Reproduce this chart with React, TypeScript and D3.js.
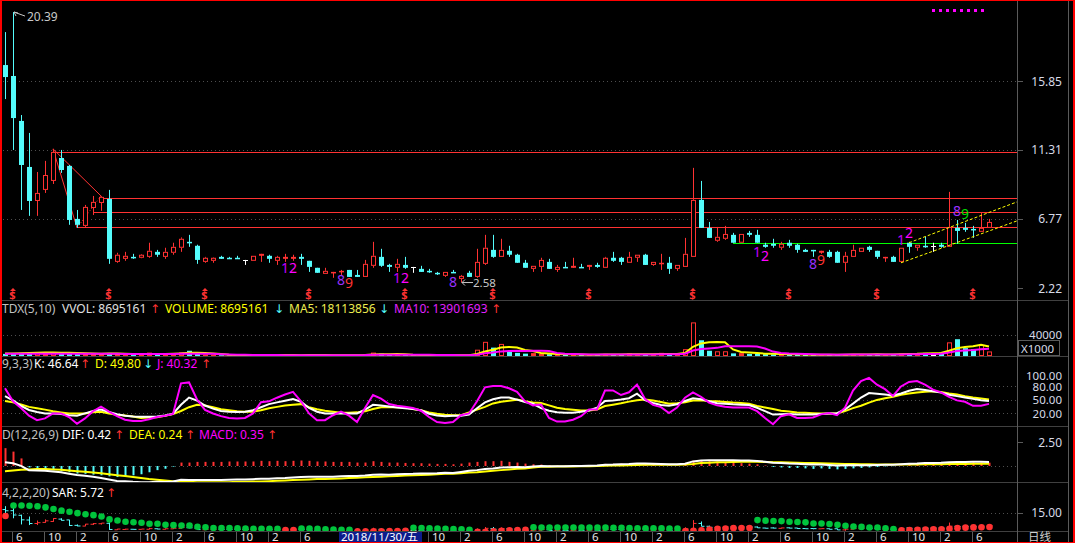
import React from "react";
import * as d3 from "d3";

const W = 1075;
const H = 543;

// ---------- monthly OHLC (May 2015 .. Aug 2025) ----------
const opens = [16.90,16.18,13.22,10.19,7.95,8.68,9.27,10.78,10.26,6.77,
 6.31,7.49,7.82,8.09,3.94,4.14,4.27,4.21,4.27,4.60,
 4.27,4.54,4.87,5.26,5.00,3.94,4.01,4.27,4.21,4.21,
 4.07,4.01,4.34,4.34,4.01,4.14,4.14,4.27,4.01,3.55,
 3.15,3.22,3.28,3.41,3.08,2.95,3.68,4.27,3.74,3.55,
 3.74,3.61,3.48,3.35,3.22,3.02,3.28,2.82,3.22,2.95,
 3.81,4.73,4.27,4.67,4.41,3.88,3.48,3.61,3.94,3.41,
 3.61,3.55,3.61,3.61,3.74,3.55,4.21,4.21,3.88,4.21,
 4.41,3.74,3.81,3.88,3.48,3.61,4.27,8.02,6.18,5.33,
 5.46,5.72,5.20,5.85,5.72,5.07,5.13,4.87,5.20,5.07,
 4.73,4.73,4.54,4.60,4.60,3.88,4.27,4.60,4.93,4.67,
 4.21,4.27,3.94,5.20,4.87,5.00,5.00,5.07,4.93,6.18,
 6.18,6.11,5.92,6.18];
const highs = [19.07,20.39,13.61,12.43,9.86,10.59,11.38,11.31,10.32,7.36,
 7.69,8.28,8.28,8.68,4.54,4.60,4.47,4.45,5.20,4.73,
 4.87,5.20,5.55,5.72,5.07,4.27,4.24,4.34,4.27,4.34,
 4.07,4.34,4.47,4.41,4.34,4.47,4.41,4.47,4.01,3.55,
 3.55,3.28,3.41,3.41,3.41,4.07,5.26,4.80,3.81,4.14,
 4.27,3.61,3.68,3.48,3.28,3.28,3.41,3.08,3.35,4.80,
 5.72,5.72,5.46,5.00,4.47,4.07,3.68,4.21,4.14,3.74,
 3.94,4.21,3.81,3.74,3.88,4.27,4.60,4.27,4.60,4.41,
 4.47,3.94,4.47,4.27,3.74,5.52,10.13,9.27,6.57,6.24,
 6.31,5.85,5.78,5.98,6.05,5.20,5.46,5.26,5.39,5.13,
 4.80,4.73,4.67,4.73,4.67,4.60,5.07,4.87,5.00,4.67,
 4.27,4.34,4.87,5.26,5.07,5.59,5.20,5.20,8.55,6.70,
 6.51,6.31,7.16,6.77];
const lows = [14.66,11.31,7.36,6.97,6.97,8.48,9.07,9.80,6.38,6.18,
 6.24,7.03,7.30,3.81,3.88,4.01,4.14,4.18,4.21,4.27,
 4.14,4.41,4.60,4.93,3.81,3.88,3.88,4.14,4.14,4.14,
 3.74,4.01,3.94,3.88,3.74,3.94,4.01,3.74,3.28,3.22,
 3.15,2.89,3.08,2.95,2.95,2.95,3.55,3.61,3.28,3.28,
 3.48,3.22,3.28,3.22,3.08,2.95,3.22,2.58,2.95,2.89,
 3.74,4.21,4.27,4.27,3.88,3.55,3.28,3.28,3.48,3.28,
 3.55,3.55,3.55,3.41,3.55,3.55,3.94,3.74,3.88,3.94,
 3.74,3.68,3.41,3.15,3.35,3.61,4.27,6.18,5.52,5.26,
 5.39,5.20,5.20,5.59,5.20,4.87,4.87,4.73,4.87,4.54,
 4.60,4.27,4.47,4.21,3.88,3.28,4.27,4.60,4.60,4.14,
 3.94,3.94,3.88,4.54,4.67,4.87,4.60,4.87,4.93,5.13,
 5.92,5.52,5.92,6.18];
const closes = [16.11,13.41,10.32,7.95,8.48,9.66,11.18,9.99,6.70,6.38,
 7.56,7.89,8.22,4.14,4.41,4.34,4.21,4.41,4.67,4.41,
 4.60,4.93,5.46,5.20,4.07,4.21,4.21,4.14,4.16,4.18,
 4.07,4.34,4.47,4.14,4.27,4.27,4.27,4.14,3.61,3.22,
 3.35,3.28,3.35,2.95,2.95,3.81,4.34,3.68,3.61,3.81,
 3.55,3.61,3.28,3.28,3.15,3.28,3.22,3.02,2.95,3.94,
 4.87,4.27,4.73,4.41,3.88,3.55,3.68,4.07,3.48,3.61,
 3.55,3.68,3.55,3.74,3.61,4.21,4.01,3.94,4.27,4.41,
 3.74,3.94,3.88,3.48,3.74,4.47,8.02,6.18,5.52,5.59,
 5.78,5.20,5.78,5.72,5.20,4.93,5.00,5.13,5.00,4.73,
 4.60,4.67,4.67,4.27,3.88,4.34,4.73,4.87,4.73,4.27,
 4.27,3.94,4.87,4.93,5.07,4.93,5.00,4.93,6.24,5.98,
 6.05,6.05,6.18,6.57];

// ---------- volume (x1000) ----------
const volumes = [4000,5500,3800,5000,6000,4500,7500,5200,6800,3500,
 4200,3300,3600,5800,5500,2500,1800,2800,6500,3500,
 3800,4500,6800,10000,4800,2600,2000,1500,1200,1300,
 1400,1800,2200,1600,1500,1800,1500,1400,2200,1700,
 1500,1300,1400,1500,1300,2800,6500,4500,2200,2400,
 1800,1500,1400,1200,1100,1500,1200,2000,2200,12000,
 27000,16000,23000,8000,6000,4500,5500,4000,3500,2500,
 2800,2600,3000,2200,2500,4000,3000,2500,5000,3200,
 3000,2500,6000,3500,3000,13000,64000,30000,10000,9000,
 9000,5000,5500,4000,4500,3500,3000,3500,2500,3000,
 2200,2000,2500,2000,2500,3500,3000,2800,3000,3500,
 2500,3000,4500,5000,5500,6000,5500,6300,26000,32000,
 15000,13000,21000,8695];
const volMa5 = [4800,5000,5200,5600,6200,6500,6600,6300,6000,5500,
 5200,4800,4500,4600,4700,4300,3900,3600,3800,3600,
 3700,4200,5000,6000,6200,5600,5000,4000,2500,1700,
 1500,1400,1600,1700,1700,1800,1700,1600,1700,1700,
 1700,1600,1600,1500,1400,1700,2700,3300,3500,3700,
 3500,2500,1900,1700,1400,1300,1300,1400,1600,3800,
 8700,11900,16000,17200,16000,11500,9400,5600,4700,3900,
 3400,3100,2800,2600,2600,2900,2900,2800,3400,3500,
 3500,3200,3900,3600,3600,5600,17500,24000,26000,26500,
 26000,12600,7700,6500,5600,4500,4100,3700,3400,3100,
 2800,2600,2400,2300,2200,2500,2700,2800,3000,3200,
 3000,3000,3300,3800,4100,4800,5300,5700,9900,15000,
 17000,18500,21400,18114];
const volMa10 = [4200,4300,4300,4400,4500,4500,4500,4400,4300,4300,
 4300,4200,4200,4100,4100,4000,4000,3900,3900,3900,
 3900,4000,4100,4300,4400,4300,4200,3500,3000,2600,
 2300,2000,1900,1800,1700,1600,1600,1600,1600,1600,
 1600,1600,1600,1600,1600,1700,2200,2400,2500,2600,
 2600,2400,2300,2200,2000,2000,1700,1600,1600,2600,
 5100,6600,8800,9400,9800,9600,9900,9900,9400,5900,
 4200,3600,3200,2900,2800,2800,2800,2700,2900,3000,
 3000,3000,3400,3400,3400,4400,10400,13300,14500,15500,
 18500,18500,18500,18500,18200,14300,8400,5800,4800,4400,
 3700,3300,3000,2800,2600,2800,2800,2800,2800,2900,
 2800,2800,3000,3300,3400,3600,3900,4300,6600,9400,
 10400,11400,12900,13902];

// ---------- KDJ(9,3,3) ----------
const kValues = [57.4,48.2,35.9,26.7,22.1,19.1,19.1,17.5,15.2,14.1,
 19.1,24.4,27.5,22.1,17.5,13.7,12.2,11.4,11.4,12.2,
 14.5,18.3,38.2,54.3,47.4,36.7,29.8,24.4,22.9,22.1,
 22.9,26.0,32.9,39.7,43.6,47.4,51.2,45.1,31.3,22.9,
 19.1,19.1,19.1,19.1,19.1,27.5,38.2,36.7,34.4,32.1,
 30.6,29.0,26.0,18.3,14.5,13.0,13.7,13.7,16.8,30.6,
 43.6,50.5,54.3,54.3,49.7,44.3,40.5,30.9,24.9,21.8,
 20.3,20.3,22.6,25.6,31.7,46.8,47.6,49.9,52.9,62.8,
 48.4,42.3,37.7,36.2,39.3,46.8,52.9,50.6,46.1,41.5,
 40.8,39.3,38.5,37.7,31.7,24.1,16.5,17.3,18.0,16.5,
 16.5,16.5,18.0,18.8,19.6,27.9,40.8,54.4,64.3,62.8,
 61.2,59.0,63.5,69.6,73.4,71.1,68.1,65.8,60.5,57.5,
 54.4,51.4,48.4,46.64];
const dValues = [46.6,43.6,39.0,33.6,30.6,27.5,23.7,21.4,19.1,19.1,
 19.1,21.4,22.9,19.1,16.0,14.5,12.2,9.1,9.9,10.6,
 13.7,17.5,24.4,32.9,38.2,36.7,32.9,28.3,26.0,23.7,
 22.9,22.9,26.0,30.6,33.6,36.7,38.2,39.7,32.9,28.3,
 25.2,22.9,20.6,20.6,21.4,23.7,29.0,32.9,33.6,32.9,
 32.1,29.0,26.0,21.4,18.3,16.0,15.2,15.2,21.4,27.5,
 33.6,41.3,45.1,47.4,49.7,45.9,43.6,42.3,37.0,31.7,
 28.7,27.1,25.6,25.6,27.9,35.5,38.5,41.5,45.3,48.4,
 49.9,47.6,44.6,40.8,41.5,43.8,47.6,48.4,46.8,46.1,
 44.6,43.1,42.3,40.8,35.5,32.4,28.7,24.9,23.3,21.1,
 20.3,19.6,18.8,18.8,18.8,24.1,30.9,36.2,43.1,49.1,
 52.9,55.9,60.5,63.5,65.8,67.3,68.1,66.6,63.5,61.2,
 57.5,54.4,52.1,49.8];
const jValues = [75,46,31,14,4,8,19,19,11,-4,
 8,24,34,23,13,5,2,2,6,11,
 14,18,86,88,50,27,19,13,9,8,
 9,19,44,46,54,61,67,46,19,4,
 4,15,23,14,0,31,60,52,40,36,
 34,31,25,11,0,-2,0,15,19,46,
 77,80,80,75,67,46,37,39,9,1,
 1,5,13,28,28,70,70,60,66,83,
 51,38,33,20,32,54,66,56,43,37,
 34,32,32,32,24,9,-5,13,17,9,
 9,10,17,20,15,32,70,91,98,83,
 73,58,79,89,91,83,72,66,56,48,
 45,36,36,40.32];

// ---------- MACD(12,26,9) ----------
const difValues = [0.39,0.28,0.01,-0.44,-0.47,-0.50,-0.58,-0.66,-0.80,-0.94,
 -1.02,-1.13,-1.24,-1.40,-1.55,-1.58,-1.64,-1.68,-1.69,-1.65,
 -1.66,-1.62,-1.43,-1.47,-1.46,-1.46,-1.46,-1.46,-1.44,-1.41,
 -1.41,-1.37,-1.34,-1.33,-1.27,-1.26,-1.20,-1.14,-1.13,-1.12,
 -1.12,-1.11,-1.07,-1.03,-1.04,-1.00,-0.90,-0.89,-0.90,-0.86,
 -0.84,-0.82,-0.78,-0.77,-0.75,-0.71,-0.73,-0.62,-0.50,-0.43,
 -0.32,-0.25,-0.16,-0.14,-0.11,-0.12,-0.06,0.01,-0.02,-0.03,
 -0.02,-0.01,0.0,0.02,0.05,0.13,0.15,0.19,0.21,0.25,
 0.25,0.23,0.22,0.19,0.17,0.23,0.48,0.58,0.60,0.61,
 0.60,0.60,0.58,0.56,0.52,0.45,0.35,0.30,0.26,0.24,
 0.19,0.15,0.15,0.11,0.06,0.07,0.07,0.08,0.09,0.11,
 0.12,0.14,0.18,0.23,0.25,0.30,0.31,0.34,0.40,0.41,
 0.42,0.43,0.43,0.42];
const deaValues = [-0.54,-0.47,-0.39,-0.36,-0.32,-0.32,-0.36,-0.39,-0.47,-0.54,
 -0.61,-0.68,-0.75,-0.86,-0.97,-1.04,-1.15,-1.25,-1.36,-1.43,
 -1.51,-1.58,-1.61,-1.65,-1.68,-1.68,-1.68,-1.68,-1.68,-1.65,
 -1.65,-1.61,-1.61,-1.58,-1.54,-1.51,-1.47,-1.43,-1.40,-1.36,
 -1.36,-1.33,-1.29,-1.25,-1.22,-1.18,-1.15,-1.11,-1.08,-1.04,
 -1.00,-0.97,-0.93,-0.90,-0.86,-0.82,-0.82,-0.75,-0.68,-0.65,
 -0.57,-0.50,-0.43,-0.36,-0.29,-0.25,-0.15,-0.07,-0.07,-0.06,
 -0.05,-0.04,-0.03,-0.02,0.0,0.02,0.04,0.06,0.08,0.10,
 0.12,0.13,0.14,0.14,0.14,0.15,0.20,0.30,0.35,0.38,
 0.40,0.42,0.43,0.43,0.43,0.42,0.40,0.38,0.36,0.34,
 0.32,0.30,0.28,0.26,0.24,0.22,0.20,0.18,0.17,0.16,
 0.15,0.15,0.15,0.15,0.16,0.17,0.18,0.19,0.20,0.21,
 0.22,0.23,0.24,0.24];
const macdBars = [1.86,1.5,0.79,-0.15,-0.3,-0.36,-0.43,-0.54,-0.65,-0.79,
 -0.82,-0.9,-0.97,-1.08,-1.15,-1.08,-0.97,-0.86,-0.65,-0.43,
 -0.29,-0.07,0.36,0.36,0.43,0.43,0.43,0.43,0.47,0.47,
 0.47,0.47,0.54,0.5,0.54,0.5,0.54,0.57,0.54,0.47,
 0.47,0.43,0.43,0.43,0.36,0.36,0.5,0.43,0.36,0.36,
 0.32,0.29,0.29,0.25,0.22,0.22,0.18,0.25,0.36,0.43,
 0.5,0.5,0.54,0.43,0.36,0.25,0.18,0.15,0.1,0.05,
 0.05,0.05,0.05,0.08,0.1,0.22,0.22,0.25,0.25,0.3,
 0.25,0.2,0.15,0.1,0.05,0.15,0.55,0.55,0.5,0.45,
 0.4,0.35,0.3,0.25,0.18,0.05,-0.1,-0.15,-0.2,-0.2,
 -0.25,-0.3,-0.25,-0.3,-0.35,-0.3,-0.25,-0.2,-0.15,-0.1,
 -0.05,-0.02,0.05,0.15,0.18,0.25,0.25,0.3,0.4,0.4,
 0.4,0.4,0.38,0.35];

// ---------- SAR(4,2,2,20) ----------
const sarValues = [12.8,19.5,19.5,19.3,19.0,18.3,17.2,16.2,15.5,14.6,
 13.9,13.3,12.4,10.6,9.9,9.1,8.8,8.4,7.8,7.8,
 7.1,6.9,6.7,6.7,5.9,5.6,5.1,5.1,5.1,4.9,
 4.7,4.6,4.6,4.5,4.5,3.7,3.8,4.7,4.7,4.5,
 4.3,4.1,4.0,3.9,2.9,2.9,2.95,3.0,3.1,3.2,
 3.25,5.2,5.1,4.9,4.7,4.6,4.4,4.3,4.0,2.6,
 2.7,3.0,3.3,3.6,3.8,3.85,5.5,5.4,5.4,5.4,
 5.4,5.4,5.3,5.3,5.3,5.3,5.2,5.2,5.0,4.9,
 4.9,4.9,4.9,4.7,4.7,3.15,3.3,3.6,4.1,4.5,
 4.8,5.0,5.1,5.1,10.13,9.8,9.6,9.5,9.1,8.9,
 8.7,8.0,8.0,7.6,7.1,6.5,6.0,5.8,5.4,5.4,
 4.9,4.4,3.6,3.7,3.9,4.1,4.2,4.3,4.6,5.0,
 5.3,5.45,5.6,5.72];
const sarUp = [1,0,0,0,0,0,0,0,0,0,
 0,0,0,0,0,0,0,0,0,0,
 0,0,0,0,0,0,0,0,0,0,
 0,0,0,0,0,1,1,0,0,0,
 0,0,0,0,1,1,1,1,1,1,
 1,0,0,0,0,0,0,0,0,1,
 1,1,1,1,1,1,0,0,0,0,
 0,0,0,0,0,0,0,0,0,0,
 0,0,0,0,0,1,1,1,1,1,
 1,1,1,1,0,0,0,0,0,0,
 0,0,0,0,0,0,0,0,0,0,
 0,0,1,1,1,1,1,1,1,1,
 1,1,1,1];

// ---------- axis ticks ----------
const priceTicks = [15.85, 11.31, 6.77, 2.22];
const volTicks = [40000];
const kdjTicks = [100, 80, 50, 20];
const kdjGrid = [80, 50, 20];
const macdTicks = [2.5];
const sarTicks = [15];
const labelMonths = [2, 6, 10];
const cursorIdx = 42;
const cursorLabel = "2018/11/30/五";

// ---------- drawing annotations (index, price) ----------
const levelLines = [
  { from: 6, price: 11.18 },
  { from: 12, price: 8.15 },
  { from: 11, price: 7.23 },
  { from: 9, price: 6.24 },
];
const supportLine = { from: 91, price: 5.2 };
const channelLow = [[112, 3.88], [126.5, 6.64]];
const channelHigh = [[113, 5.2], [126.5, 7.89]];
const waveLines = [
  [[6, 11.38], [9, 6.18]],
  [[6, 11.38], [12, 8.28]],
];
const waveDotted = [[9, 6.18], [12, 8.28]];
const dividendIdx = [1, 13, 25, 38, 50, 61, 73, 86, 98, 109, 121];
const tdMarks = [
  { i: 35, t: "1", p: 3.55, c: "#c000ff" },
  { i: 36, t: "2", p: 3.55, c: "#ff00ff" },
  { i: 42, t: "8", p: 2.76, c: "#9a30ff" },
  { i: 43, t: "9", p: 2.53, c: "#ff3232" },
  { i: 49, t: "1", p: 2.89, c: "#c000ff" },
  { i: 50, t: "2", p: 2.89, c: "#ff00ff" },
  { i: 56, t: "8", p: 2.63, c: "#9a30ff" },
  { i: 94, t: "1", p: 4.62, c: "#c000ff" },
  { i: 95, t: "2", p: 4.34, c: "#ff00ff" },
  { i: 101, t: "8", p: 3.79, c: "#9a30ff" },
  { i: 102, t: "9", p: 4.07, c: "#ff3232" },
  { i: 112, t: "1", p: 5.39, c: "#c000ff" },
  { i: 113, t: "2", p: 5.82, c: "#ff00ff" },
  { i: 119, t: "8", p: 7.3, c: "#9a30ff" },
  { i: 120, t: "9", p: 7.1, c: "#00e000" },
];

const RED = "#ff3232";
const CYAN = "#54fcfc";
const SAR_GREEN = "#00c43c";
const GRID = "#4e4e4e";
const SEP = "#404040";
const AXIS = "#5a5a5a";
const LABEL = "#d6dae6";
const FONT = "'Noto Sans','DejaVu Sans','Noto Sans CJK SC',sans-serif";

export default function App() {
  const n = closes.length;
  const x = d3.scaleLinear().domain([0, n - 1]).range([5, 989]);
  const yP = d3.scaleLinear().domain([2.22, 15.85]).range([288, 81]);
  const yV = d3.scaleLinear().domain([0, 40000]).range([356, 335]);
  const yK = d3.scaleLinear().domain([20, 80]).range([413, 386]);
  const yM = d3.scaleLinear().domain([0, 2.5]).range([466, 442]);
  const yS = d3.scaleLinear().domain([5.72, 15]).range([527, 512.5]);

  const dates = d3.range(n).map((i) => d3.timeMonth.offset(new Date(2015, 4, 1), i));
  const boxX0 = x(cursorIdx) - 2;
  const boxX1 = boxX0 + 83;
  const monthTicks = dates
    .map((d, i) => ({ i, m: d.getMonth() + 1 }))
    .filter((t) => labelMonths.includes(t.m))
    .filter((t) => x(t.i) + 3 < boxX0 - 4 || x(t.i) > boxX1);

  const lineOf = (ys: (v: number) => number) =>
    d3.line<number>().x((_, i) => x(i)).y((v) => ys(v));

  const ptLine = d3
    .line<number[]>()
    .x((d) => x(d[0]))
    .y((d) => yP(d[1]));

  const candles = d3.range(n).map((i) => {
    const o = opens[i], c = closes[i], h = highs[i], l = lows[i];
    const xc = Math.round(x(i));
    const up = c > o;
    const down = c < o;
    const col = up ? RED : down ? CYAN : "#ffffff";
    const top = yP(Math.max(o, c));
    const bot = yP(Math.min(o, c));
    const xw = xc + 0.5;
    if (!up && !down) {
      return (
        <g key={i} stroke={col}>
          <line x1={xw} x2={xw} y1={yP(h)} y2={yP(l)} />
          <line x1={xc - 2} x2={xc + 3} y1={Math.round(top) + 0.5} y2={Math.round(top) + 0.5} />
        </g>
      );
    }
    const bh = bot - top;
    if (up && bh >= 3) {
      return (
        <g key={i} stroke={col}>
          <line x1={xw} x2={xw} y1={yP(h)} y2={top} />
          <line x1={xw} x2={xw} y1={bot} y2={yP(l)} />
          <rect x={xc - 1.5} y={top + 0.5} width={4} height={bh - 1} fill="#000" />
        </g>
      );
    }
    return (
      <g key={i}>
        <line x1={xw} x2={xw} y1={yP(h)} y2={yP(l)} stroke={col} />
        <rect x={xc - 2} y={top} width={5} height={Math.max(bh, 1.5)} fill={col} />
      </g>
    );
  });

  const volBars = d3.range(n).map((i) => {
    const up = closes[i] > opens[i];
    const down = closes[i] < opens[i];
    const xc = Math.round(x(i));
    const top = yV(volumes[i]);
    const h = 356 - top;
    if (up && h >= 3) {
      return <rect key={i} x={xc - 1.5} y={top + 0.5} width={4} height={h - 1} fill="#000" stroke={RED} />;
    }
    return <rect key={i} x={xc - 2} y={top} width={5} height={Math.max(h, 1)} fill={up ? RED : down ? CYAN : "#fff"} />;
  });

  const sarBars = d3.range(n).map((i) => {
    const o = opens[i], c = closes[i];
    const col = c > o ? RED : c < o ? CYAN : "#ffffff";
    const xc = Math.round(x(i)) + 0.5;
    return (
      <g key={i} stroke={col}>
        <line x1={xc} x2={xc} y1={yS(highs[i])} y2={yS(lows[i])} />
        <line x1={xc - 3} x2={xc} y1={yS(o)} y2={yS(o)} />
        <line x1={xc} x2={xc + 3} y1={yS(c)} y2={yS(c)} />
      </g>
    );
  });

  const txt = (props: any, s: string) => (
    <text fontFamily={FONT} fontSize={12} {...props}>{s}</text>
  );

  const seps = [300.5, 356.5, 426.5, 482.5, 531.5];

  return (
    <div style={{ position: "absolute", left: 0, top: 0, width: W, height: H, background: "#000" }}>
      <svg width={W} height={H} style={{ display: "block" }}>
        <defs>
          <clipPath id="cpPrice"><rect x={2} y={1} width={1015} height={299} /></clipPath>
          <clipPath id="cpVol"><rect x={2} y={318} width={1015} height={38} /></clipPath>
          <clipPath id="cpKdj"><rect x={2} y={357} width={1015} height={69} /></clipPath>
          <clipPath id="cpMacd"><rect x={2} y={427} width={1015} height={55} /></clipPath>
          <clipPath id="cpSar"><rect x={2} y={483} width={1015} height={48} /></clipPath>
        </defs>
        <rect width={W} height={H} fill="#000" />

        {/* grid dotted lines */}
        <g stroke={GRID} strokeDasharray="1,3">
          {priceTicks.slice(0, 3).map((p) => (
            <line key={p} x1={3} x2={1017} y1={Math.round(yP(p)) + 0.5} y2={Math.round(yP(p)) + 0.5} />
          ))}
          {volTicks.map((v) => (
            <line key={v} x1={3} x2={1017} y1={Math.round(yV(v)) + 0.5} y2={Math.round(yV(v)) + 0.5} />
          ))}
          {kdjGrid.map((v) => (
            <line key={v} x1={3} x2={1017} y1={Math.round(yK(v)) + 0.5} y2={Math.round(yK(v)) + 0.5} />
          ))}
          <line x1={3} x2={1017} y1={466.5} y2={466.5} />
          {sarTicks.map((v) => (
            <line key={v} x1={3} x2={1017} y1={Math.round(yS(v)) + 0.5} y2={Math.round(yS(v)) + 0.5} />
          ))}
        </g>

        {/* separators */}
        <g stroke={SEP}>
          {seps.map((s) => (
            <line key={s} x1={0} x2={1068} y1={s} y2={s} />
          ))}
        </g>

        {/* ---------- price panel ---------- */}
        <g clipPath="url(#cpPrice)">
          <g stroke={RED} strokeWidth={1}>
            {levelLines.map((l, k) => (
              <line key={k} x1={x(l.from)} x2={1017} y1={Math.round(yP(l.price)) + 0.5} y2={Math.round(yP(l.price)) + 0.5} />
            ))}
          </g>
          <line x1={x(supportLine.from)} x2={1017} y1={Math.round(yP(supportLine.price)) + 0.5} y2={Math.round(yP(supportLine.price)) + 0.5} stroke="#00ff00" />
          {waveLines.map((w, k) => (
            <path key={k} d={ptLine(w as any) || ""} stroke={RED} fill="none" strokeWidth={1} />
          ))}
          <path d={ptLine(waveDotted as any) || ""} stroke={RED} fill="none" strokeDasharray="1,2" />
          {candles}
          <path d={ptLine(channelLow as any) || ""} stroke="#ffff00" fill="none" strokeDasharray="3,2" />
          <path d={ptLine(channelHigh as any) || ""} stroke="#ffff00" fill="none" strokeDasharray="3,2" />
          {tdMarks.map((m, k) => (
            <text key={k} x={x(m.i)} y={yP(m.p) + 5} textAnchor="middle" fontFamily={FONT} fontSize={14} fill={m.c}>
              {m.t}
            </text>
          ))}
          {dividendIdx.map((i) => (
            <g key={i} fill={RED}>
              <path d={`M${x(i) - 3},${291} L${x(i)},${288} L${x(i) + 3},${291} Z`} />
              <text x={x(i) - 0.5} y={298.5} textAnchor="middle" fontFamily={FONT} fontSize={11} fontWeight="bold">$</text>
            </g>
          ))}
          {/* max / min annotations */}
          <g stroke="#c8c8c8" fill="none">
            <path d={`M${x(1) + 1},${yP(highs[1])} L${x(1) + 12},${yP(highs[1]) + 4}`} />
            <path d={`M${x(1) + 1},${yP(highs[1])} l2,4 M${x(1) + 1},${yP(highs[1])} l4,1`} />
            <path d={`M${x(57) + 1},${yP(lows[57])} L${x(57) + 12},${yP(lows[57])}`} />
            <path d={`M${x(57) + 1},${yP(lows[57])} l3,-3 M${x(57) + 1},${yP(lows[57])} l3,3`} />
          </g>
          {txt({ x: x(1) + 14, y: yP(highs[1]) + 9, fill: "#c8c8c8" }, highs[1].toFixed(2))}
          {txt({ x: x(57) + 12, y: yP(lows[57]) + 4, fill: "#c8c8c8", fontSize: 11.5 }, lows[57].toFixed(2))}
        </g>
        {/* magenta dotted marker top right */}
        {d3.range(8).map((k) => (
          <rect key={k} x={932 + k * 7} y={9} width={3} height={3} fill="#ff00ff" />
        ))}

        {/* ---------- volume panel ---------- */}
        <g clipPath="url(#cpVol)">
          {volBars}
          <path d={lineOf(yV)(volMa5) || ""} stroke="#ffff00" strokeWidth={2} fill="none" />
          <path d={lineOf(yV)(volMa10) || ""} stroke="#ff00ff" strokeWidth={2} fill="none" />
        </g>
        <text y={313} fontFamily={FONT} fontSize={12}>
          <tspan x={2} fill="#c0c0c0">TDX(5,10)</tspan>
          <tspan x={62} fill="#e0e0e0">VVOL: 8695161</tspan>
          <tspan x={150} fill={RED}>↑</tspan>
          <tspan x={165} fill="#ffff00">VOLUME: 8695161</tspan>
          <tspan x={274} fill={CYAN}>↓</tspan>
          <tspan x={289} fill="#ecec50">MA5: 18113856</tspan>
          <tspan x={379} fill={CYAN}>↓</tspan>
          <tspan x={394} fill="#e020ff">MA10: 13901693</tspan>
          <tspan x={491} fill={RED}>↑</tspan>
        </text>

        {/* ---------- KDJ panel ---------- */}
        <g clipPath="url(#cpKdj)">
          <path d={lineOf(yK)(dValues) || ""} stroke="#ffff00" strokeWidth={2} fill="none" />
          <path d={lineOf(yK)(kValues) || ""} stroke="#ffffff" strokeWidth={2} fill="none" />
          <path d={lineOf(yK)(jValues) || ""} stroke="#ff00ff" strokeWidth={2} fill="none" />
        </g>
        <text y={368} fontFamily={FONT} fontSize={12}>
          <tspan x={2} fill="#c0c0c0">9,3,3)</tspan>
          <tspan x={34} fill="#ffffff">K: 46.64</tspan>
          <tspan x={80} fill={RED}>↑</tspan>
          <tspan x={95} fill="#ffff00">D: 49.80</tspan>
          <tspan x={143} fill={CYAN}>↓</tspan>
          <tspan x={157} fill="#ff00ff">J: 40.32</tspan>
          <tspan x={201} fill={RED}>↑</tspan>
        </text>

        {/* ---------- MACD panel ---------- */}
        <g clipPath="url(#cpMacd)">
          {macdBars.map((v, i) => (
            <line key={i} x1={Math.round(x(i)) + 0.5} x2={Math.round(x(i)) + 0.5} y1={yM(0)} y2={yM(v)}
              stroke={v >= 0 ? RED : CYAN} strokeWidth={2} />
          ))}
          <path d={lineOf(yM)(deaValues) || ""} stroke="#ffff00" strokeWidth={2} fill="none" />
          <path d={lineOf(yM)(difValues) || ""} stroke="#ffffff" strokeWidth={2} fill="none" />
        </g>
        <text y={439} fontFamily={FONT} fontSize={12}>
          <tspan x={2} fill="#c0c0c0">D(12,26,9)</tspan>
          <tspan x={62} fill="#ffffff">DIF: 0.42</tspan>
          <tspan x={114} fill={RED}>↑</tspan>
          <tspan x={129} fill="#ffff00">DEA: 0.24</tspan>
          <tspan x={185} fill={RED}>↑</tspan>
          <tspan x={199} fill="#ff00ff">MACD: 0.35</tspan>
          <tspan x={267} fill={RED}>↑</tspan>
        </text>

        {/* ---------- SAR panel ---------- */}
        <g clipPath="url(#cpSar)">
          {sarBars}
          {sarValues.map((v, i) => (
            <circle key={i} cx={x(i) + 0.5} cy={yS(v)} r={3.3} fill={sarUp[i] ? RED : SAR_GREEN} />
          ))}
        </g>
        <text y={497} fontFamily={FONT} fontSize={12}>
          <tspan x={2} fill="#c0c0c0">4,2,2,20)</tspan>
          <tspan x={52} fill="#ffffff">SAR: 5.72</tspan>
          <tspan x={106} fill={RED}>↑</tspan>
        </text>

        {/* ---------- date axis ---------- */}
        {monthTicks.map((t) => (
          <g key={t.i}>
            <line x1={Math.round(x(t.i)) - 0.5} x2={Math.round(x(t.i)) - 0.5} y1={532} y2={543} stroke={AXIS} />
            {txt({ x: x(t.i) + 3, y: 540.5, fill: "#e6e6e6", fontSize: 11.5 }, String(t.m))}
          </g>
        ))}
        <rect x={boxX0} y={532} width={83} height={11} fill="#0c1c8c" />
        {txt({ x: boxX0 + 2, y: 540.5, fill: "#ffffff", fontSize: 11.5 }, cursorLabel)}

        {/* ---------- right axis ---------- */}
        <line x1={1017.5} x2={1017.5} y1={0} y2={543} stroke={AXIS} />
        <line x1={1068.5} x2={1068.5} y1={0} y2={543} stroke={AXIS} />
        <g stroke={AXIS}>
          {priceTicks.map((p) => (
            <line key={p} x1={1017} x2={1023} y1={Math.round(yP(p)) + 0.5} y2={Math.round(yP(p)) + 0.5} />
          ))}
          {macdTicks.map((v) => (
            <line key={v} x1={1017} x2={1023} y1={Math.round(yM(v)) + 0.5} y2={Math.round(yM(v)) + 0.5} />
          ))}
          {sarTicks.map((v) => (
            <line key={v} x1={1017} x2={1023} y1={Math.round(yS(v)) + 0.5} y2={Math.round(yS(v)) + 0.5} />
          ))}
        </g>
        {priceTicks.map((p) => txt({ key: p, x: 1062, y: yP(p) + 4.5, fill: LABEL, textAnchor: "end" }, p.toFixed(2)))}
        {volTicks.map((v) => txt({ key: v, x: 1062, y: yV(v) + 3.5, fill: LABEL, textAnchor: "end", fontSize: 11.5 }, String(v)))}
        <rect x={1018.5} y={340.5} width={41} height={15} fill="none" stroke={AXIS} />
        {txt({ x: 1021, y: 353, fill: LABEL, fontSize: 11.5 }, "X1000")}
        {kdjTicks.map((v) => txt({ key: v, x: 1062, y: yK(v) + (v === 100 ? 2.5 : v === 80 ? 5 : 4.5), fill: LABEL, textAnchor: "end", fontSize: 11.5 }, v.toFixed(2)))}
        {macdTicks.map((v) => txt({ key: v, x: 1062, y: yM(v) + 4.5, fill: LABEL, textAnchor: "end" }, v.toFixed(2)))}
        {sarTicks.map((v) => txt({ key: v, x: 1062, y: yS(v) + 4.5, fill: LABEL, textAnchor: "end" }, v.toFixed(2)))}
        {txt({ x: 1028, y: 540.5, fill: "#cfcfcf", fontSize: 11.5 }, "日线")}

        {/* frame */}
        <line x1={0} x2={W} y1={0.5} y2={0.5} stroke="#ff0000" />
        <line x1={0} x2={W} y1={542.5} y2={542.5} stroke="#ff0000" />
        <line x1={1} x2={1} y1={0} y2={H} stroke="#ff0000" strokeWidth={2} />
        <line x1={1074} x2={1074} y1={0} y2={H} stroke="#ff0000" strokeWidth={2} />
      </svg>
    </div>
  );
}
